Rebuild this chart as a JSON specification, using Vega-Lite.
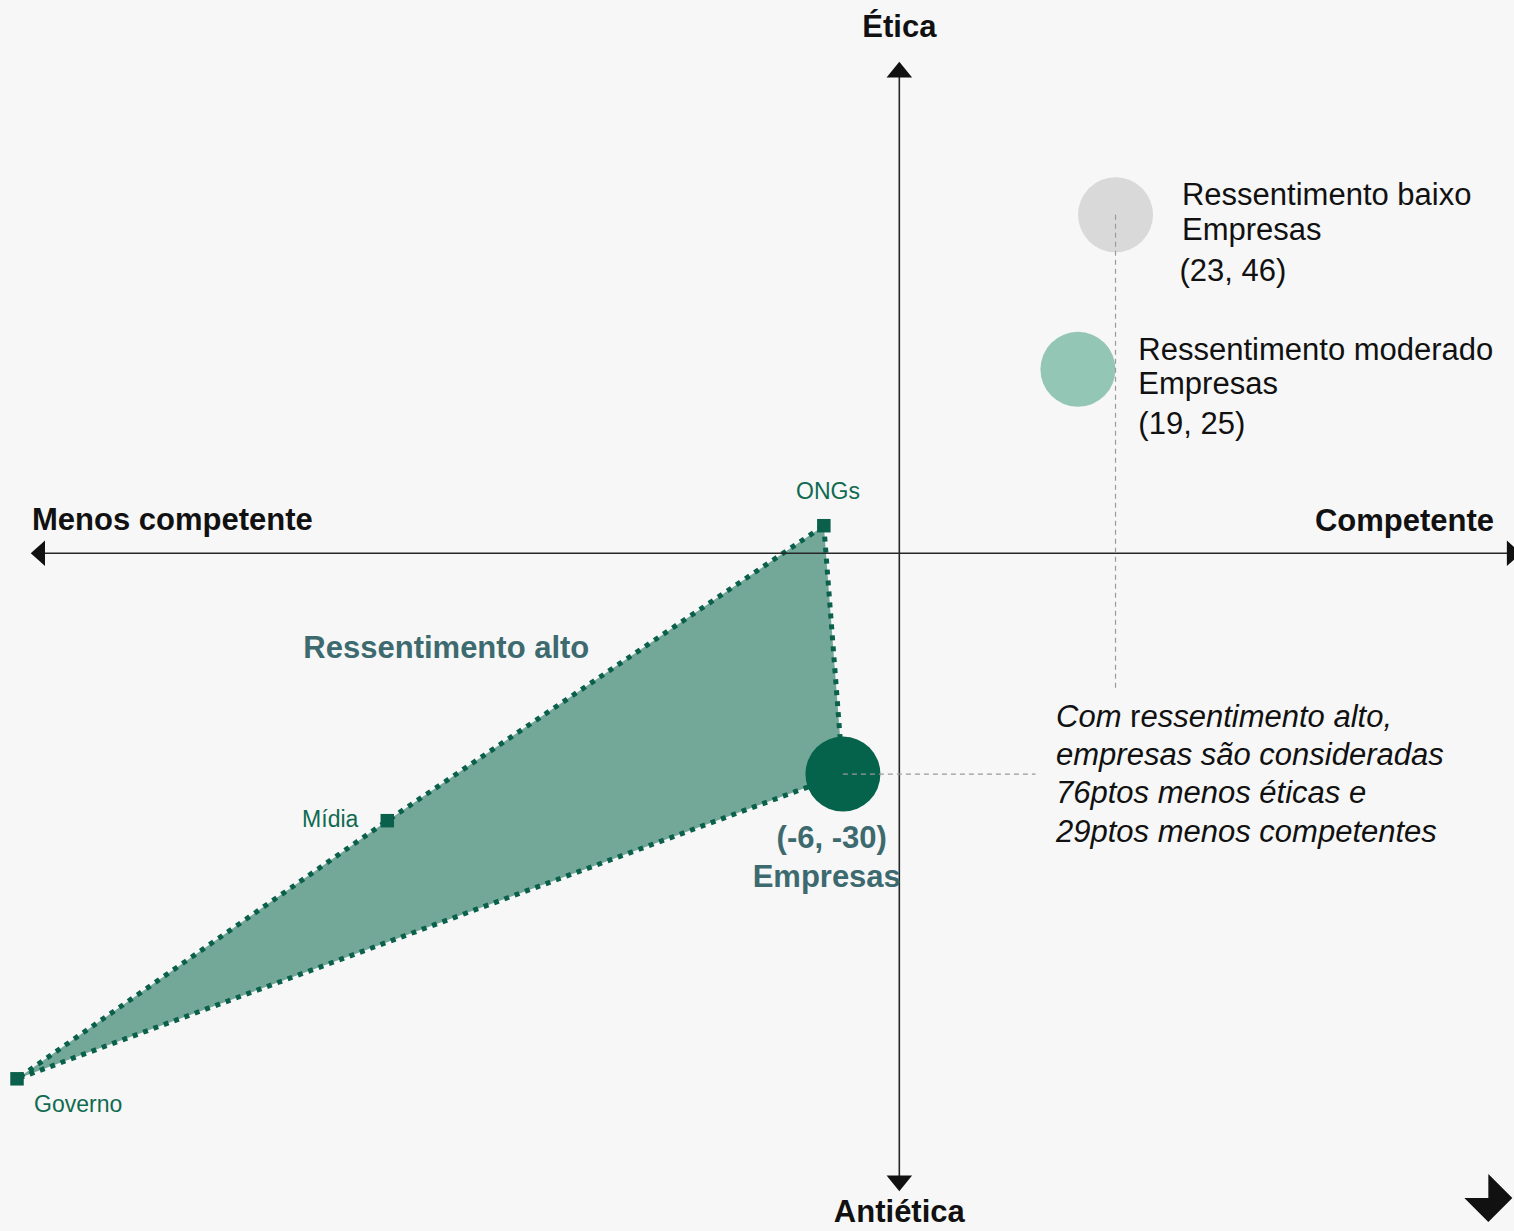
{
  "$schema": "https://vega.github.io/schema/vega-lite/v6.json",
  "width": 1514,
  "height": 1231,
  "autosize": {"type": "none"},
  "padding": 0,
  "background": "#f7f7f7",
  "config": {"view": {"stroke": null}, "font": "Liberation Sans"},
  "datasets": {
    "triangulo": [
      {"entidade": "ONGs", "x": -8.03, "y": 3.75, "ordem": 1},
      {"entidade": "Empresas", "x": -6, "y": -30, "ordem": 2},
      {"entidade": "Governo", "x": -93.86, "y": -71.4, "ordem": 3},
      {"entidade": "Mídia", "x": -54.47, "y": -36.33, "ordem": 4}
    ],
    "empresas": [
      {"nivel": "baixo", "x": 23, "y": 46},
      {"nivel": "moderado", "x": 19, "y": 25},
      {"nivel": "alto", "x": -6, "y": -30}
    ],
    "eixos": [
      {"x": -91.2, "y": 0, "x2": 64.8, "y2": 0},
      {"x": 0, "y": 65.2, "x2": 0, "y2": -85.0}
    ],
    "setas": [
      {"direcao": "cima", "x": 0, "y": 65.73},
      {"direcao": "baixo", "x": 0, "y": -85.6},
      {"direcao": "esq", "x": -91.64, "y": 0},
      {"direcao": "dir", "x": 65.39, "y": 0}
    ],
    "marca": [
      {"x": 62.66, "y": -87.6}
    ],
    "guias": [
      {"x": 23, "y": 46, "x2": 23, "y2": -18.6},
      {"x": -6, "y": -30, "x2": 14.5, "y2": -30}
    ],
    "rotulos": [
      {"texto": "Ética", "x": 0, "y": 70.19, "tipo": "eixo-centro"},
      {"texto": "Antiética", "x": 0, "y": -90.86, "tipo": "eixo-centro"},
      {"texto": "Menos competente", "x": -92.27, "y": 3.17, "tipo": "eixo-esq"},
      {"texto": "Competente", "x": 63.27, "y": 3.03, "tipo": "eixo-dir"},
      {"texto": "Ressentimento baixo", "x": 30.07, "y": 47.32, "tipo": "ponto"},
      {"texto": "Empresas", "x": 30.07, "y": 42.57, "tipo": "ponto"},
      {"texto": "(23, 46)", "x": 29.8, "y": 37.0, "tipo": "ponto"},
      {"texto": "Ressentimento moderado", "x": 25.43, "y": 26.26, "tipo": "ponto"},
      {"texto": "Empresas", "x": 25.43, "y": 21.6, "tipo": "ponto"},
      {"texto": "(19, 25)", "x": 25.43, "y": 16.2, "tipo": "ponto"},
      {"texto": "ONGs", "x": -7.59, "y": 7.34, "tipo": "verde-centro"},
      {"texto": "Mídia", "x": -57.55, "y": -37.15, "tipo": "verde-dir"},
      {"texto": "Governo", "x": -92.05, "y": -75.95, "tipo": "verde-esq"},
      {"texto": "Ressentimento alto", "x": -63.4, "y": -14.27, "tipo": "destaque-esq"},
      {"texto": "(-6, -30)", "x": -7.19, "y": -40.04, "tipo": "destaque-centro"},
      {"texto": "Empresas", "x": -7.72, "y": -45.3, "tipo": "destaque-centro"},
      {"texto": "Com", "x": 16.67, "y": -23.56, "tipo": "nota"},
      {"texto": "r", "x": 16.67, "y": -23.56, "tipo": "nota-r"},
      {"texto": "essentimento alto,", "x": 16.67, "y": -23.56, "tipo": "nota-cont"},
      {"texto": "empresas são consideradas", "x": 16.67, "y": -28.76, "tipo": "nota"},
      {"texto": "76ptos menos éticas e", "x": 16.67, "y": -33.97, "tipo": "nota"},
      {"texto": "29ptos menos competentes", "x": 16.67, "y": -39.18, "tipo": "nota"}
    ]
  },
  "encoding": {
    "x": {"field": "x", "type": "quantitative", "scale": {"domain": [-95.67, 65.39], "nice": false, "zero": false}, "axis": null},
    "y": {"field": "y", "type": "quantitative", "scale": {"domain": [-92.08, 75.18], "nice": false, "zero": false}, "axis": null}
  },
  "layer": [
    {
      "data": {"name": "triangulo"},
      "mark": {"type": "line", "interpolate": "linear-closed", "fill": "#73a899", "stroke": "#0a604a", "strokeWidth": 5, "strokeDash": [5, 6]},
      "encoding": {"order": {"field": "ordem", "type": "quantitative"}}
    },
    {
      "data": {"name": "triangulo"},
      "transform": [{"filter": "datum.entidade !== 'Empresas'"}],
      "mark": {"type": "square", "size": 182, "color": "#0a604a", "opacity": 1}
    },
    {
      "data": {"name": "eixos"},
      "mark": {"type": "rule", "color": "#262626", "strokeWidth": 1.6},
      "encoding": {"x2": {"field": "x2"}, "y2": {"field": "y2"}}
    },
    {
      "data": {"name": "setas"},
      "mark": {"type": "point", "filled": true, "size": 650, "color": "#111111", "opacity": 1},
      "encoding": {
        "shape": {
          "field": "direcao",
          "type": "nominal",
          "scale": {
            "domain": ["cima", "baixo", "esq", "dir"],
            "range": ["M0,-0.62L1,0.62L-1,0.62Z", "M-1,-0.62L1,-0.62L0,0.62Z", "M-0.56,0L0.56,-1L0.56,1Z", "M0.56,0L-0.56,-1L-0.56,1Z"]
          },
          "legend": null
        }
      }
    },
    {
      "data": {"name": "empresas"},
      "mark": {"type": "circle", "size": 5625, "opacity": 1},
      "encoding": {
        "color": {
          "field": "nivel",
          "type": "nominal",
          "scale": {"domain": ["baixo", "moderado", "alto"], "range": ["#d9d9d9", "#94c6b6", "#05634b"]},
          "legend": null
        }
      }
    },
    {
      "data": {"name": "guias"},
      "mark": {"type": "rule", "color": "#9a9a9a", "strokeWidth": 1.2, "strokeDash": [5, 4]},
      "encoding": {"x2": {"field": "x2"}, "y2": {"field": "y2"}}
    },
    {
      "data": {"name": "marca"},
      "mark": {"type": "point", "filled": true, "size": 2304, "color": "#111111", "opacity": 1, "shape": "M0,-1L1,0L0,1L-1,0L0,0Z"}
    },
    {
      "data": {"name": "rotulos"},
      "transform": [{"filter": "datum.tipo === 'eixo-centro'"}],
      "mark": {"type": "text", "align": "center", "baseline": "alphabetic", "fontSize": 31, "fontWeight": "bold", "color": "#111111"},
      "encoding": {"text": {"field": "texto"}}
    },
    {
      "data": {"name": "rotulos"},
      "transform": [{"filter": "datum.tipo === 'eixo-esq'"}],
      "mark": {"type": "text", "align": "left", "baseline": "alphabetic", "fontSize": 31, "fontWeight": "bold", "color": "#111111"},
      "encoding": {"text": {"field": "texto"}}
    },
    {
      "data": {"name": "rotulos"},
      "transform": [{"filter": "datum.tipo === 'eixo-dir'"}],
      "mark": {"type": "text", "align": "right", "baseline": "alphabetic", "fontSize": 31, "fontWeight": "bold", "color": "#111111"},
      "encoding": {"text": {"field": "texto"}}
    },
    {
      "data": {"name": "rotulos"},
      "transform": [{"filter": "datum.tipo === 'ponto'"}],
      "mark": {"type": "text", "align": "left", "baseline": "alphabetic", "fontSize": 31, "color": "#111111"},
      "encoding": {"text": {"field": "texto"}}
    },
    {
      "data": {"name": "rotulos"},
      "transform": [{"filter": "datum.tipo === 'verde-centro'"}],
      "mark": {"type": "text", "align": "center", "baseline": "alphabetic", "fontSize": 23, "color": "#0f6a50"},
      "encoding": {"text": {"field": "texto"}}
    },
    {
      "data": {"name": "rotulos"},
      "transform": [{"filter": "datum.tipo === 'verde-dir'"}],
      "mark": {"type": "text", "align": "right", "baseline": "alphabetic", "fontSize": 23, "color": "#0f6a50"},
      "encoding": {"text": {"field": "texto"}}
    },
    {
      "data": {"name": "rotulos"},
      "transform": [{"filter": "datum.tipo === 'verde-esq'"}],
      "mark": {"type": "text", "align": "left", "baseline": "alphabetic", "fontSize": 23, "color": "#0f6a50"},
      "encoding": {"text": {"field": "texto"}}
    },
    {
      "data": {"name": "rotulos"},
      "transform": [{"filter": "datum.tipo === 'destaque-esq'"}],
      "mark": {"type": "text", "align": "left", "baseline": "alphabetic", "fontSize": 31, "fontWeight": "bold", "color": "#3d6a6f"},
      "encoding": {"text": {"field": "texto"}}
    },
    {
      "data": {"name": "rotulos"},
      "transform": [{"filter": "datum.tipo === 'destaque-centro'"}],
      "mark": {"type": "text", "align": "center", "baseline": "alphabetic", "fontSize": 31, "fontWeight": "bold", "color": "#3d6a6f"},
      "encoding": {"text": {"field": "texto"}}
    },
    {
      "data": {"name": "rotulos"},
      "transform": [{"filter": "datum.tipo === 'nota'"}],
      "mark": {"type": "text", "align": "left", "baseline": "alphabetic", "fontSize": 31, "fontStyle": "italic", "color": "#111111"},
      "encoding": {"text": {"field": "texto"}}
    },
    {
      "data": {"name": "rotulos"},
      "transform": [{"filter": "datum.tipo === 'nota-r'"}],
      "mark": {"type": "text", "align": "left", "baseline": "alphabetic", "fontSize": 31, "color": "#111111", "dx": 74.1},
      "encoding": {"text": {"field": "texto"}}
    },
    {
      "data": {"name": "rotulos"},
      "transform": [{"filter": "datum.tipo === 'nota-cont'"}],
      "mark": {"type": "text", "align": "left", "baseline": "alphabetic", "fontSize": 31, "fontStyle": "italic", "color": "#111111", "dx": 84.4},
      "encoding": {"text": {"field": "texto"}}
    }
  ]
}
